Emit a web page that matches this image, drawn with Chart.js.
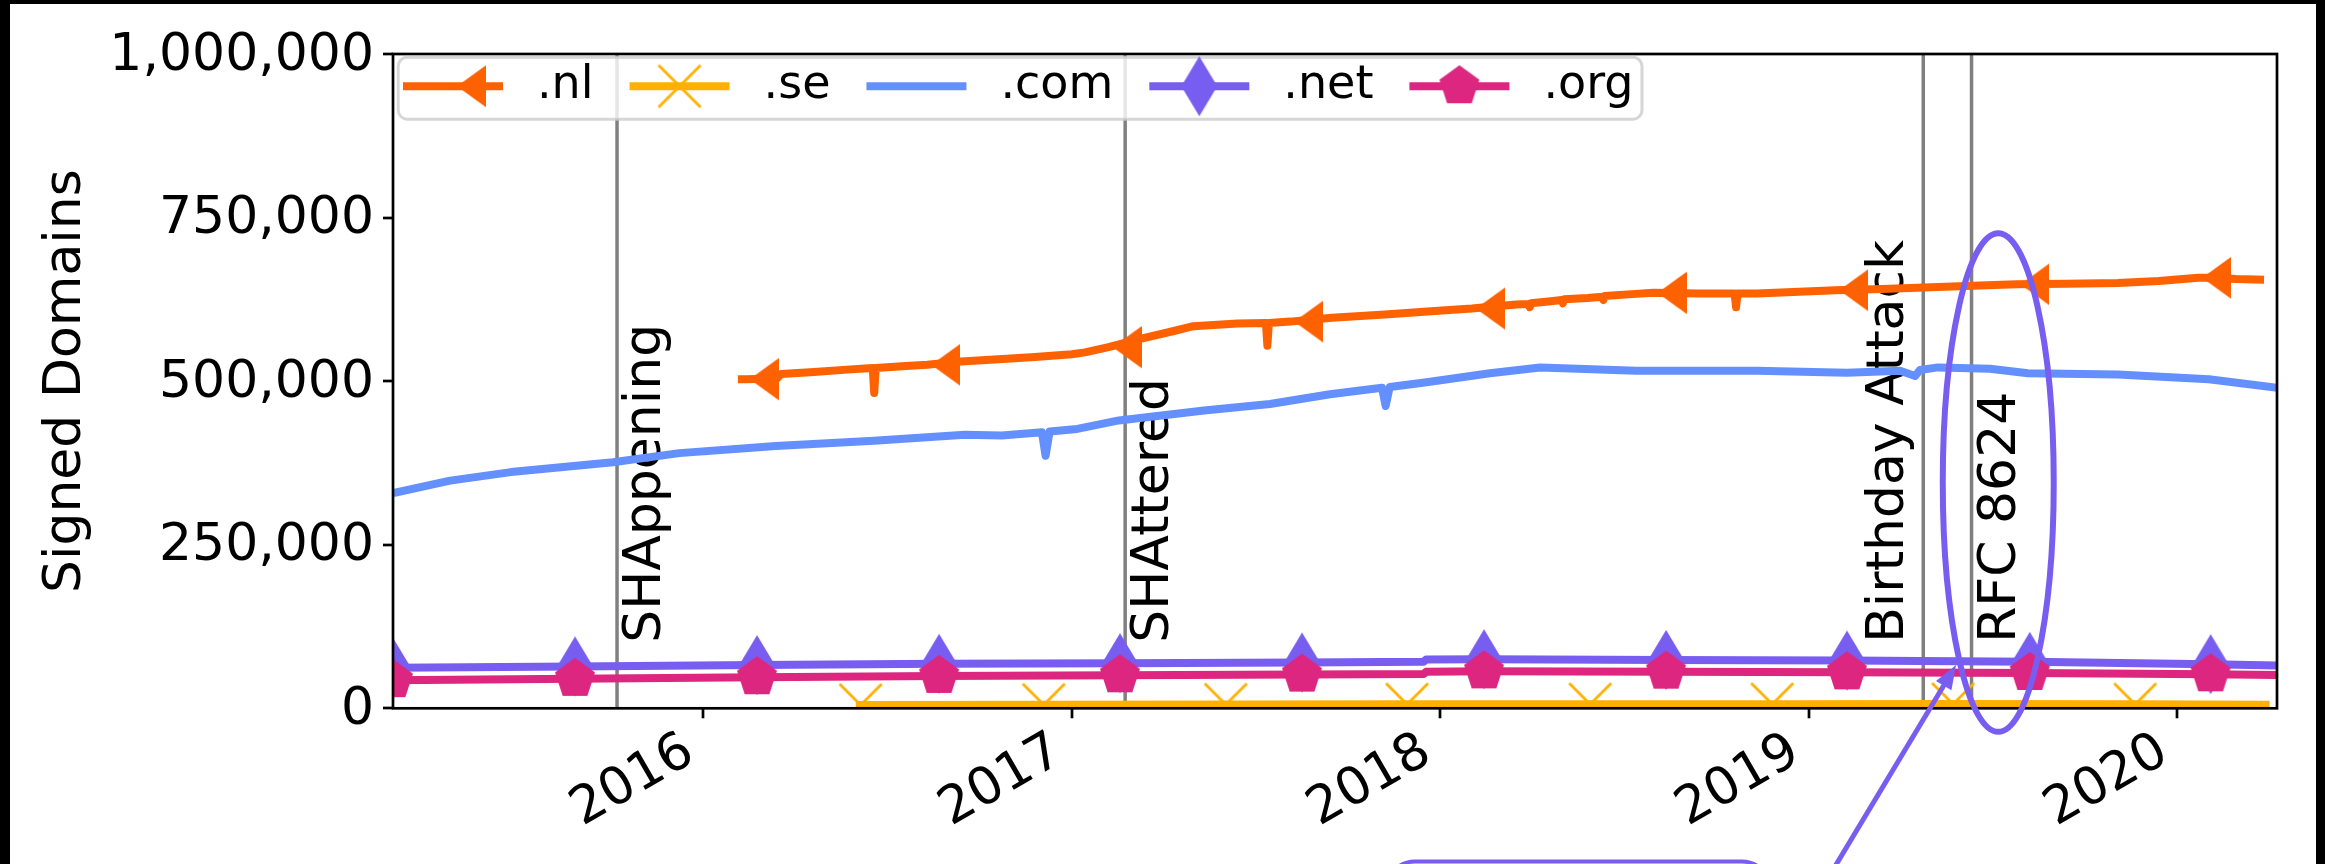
<!DOCTYPE html>
<html>
<head>
<meta charset="utf-8">
<script src="https://cdn.jsdelivr.net/npm/chart.js@4.4.1/dist/chart.umd.min.js"></script>
<style>
  html, body { margin: 0; padding: 0; background: #000; width: 2325px; height: 864px; overflow: hidden; }
  #wrap { position: absolute; left: 10px; top: 4px; width: 2306px; height: 860px; background: #fff; overflow: hidden; }
  canvas { display: block; }
</style>
</head>
<body>
<div id="wrap"><canvas id="chart" width="2306" height="860"></canvas></div>
<script>
// ---------------- data ----------------
const seriesNames = ['.nl', '.se', '.com', '.net', '.org'];
const yearTicks = [2016, 2017, 2018, 2019, 2020];
const valueTicks = [0, 250000, 500000, 750000, 1000000];
const yearRange = [2015.158, 2020.271];
const valueRange = [0, 1000000];

const nlYears = [2016.105, 2016.115, 2016.200, 2016.212, 2016.300, 2016.400, 2016.460, 2016.464, 2016.468, 2016.550, 2016.608, 2016.700, 2016.790, 2016.900, 2017.000, 2017.036, 2017.100, 2017.180, 2017.280, 2017.330, 2017.450, 2017.527, 2017.531, 2017.535, 2017.593, 2017.706, 2017.850, 2017.975, 2018.086, 2018.206, 2018.240, 2018.243, 2018.246, 2018.300, 2018.330, 2018.333, 2018.336, 2018.400, 2018.440, 2018.443, 2018.446, 2018.520, 2018.579, 2018.700, 2018.799, 2018.803, 2018.807, 2018.860, 2019.072, 2019.200, 2019.351, 2019.465, 2019.564, 2019.700, 2019.839, 2019.950, 2020.057, 2020.103, 2020.160, 2020.225];
const nlValues = [503000, 503000, 504000, 511000, 514000, 518000, 520000, 482000, 520000, 523000, 525000, 530000, 533000, 537000, 541000, 544000, 552000, 564000, 577000, 584000, 588000, 589000, 554000, 589000, 591000, 597000, 602000, 607000, 611000, 617000, 618000, 613000, 619000, 622000, 624000, 619000, 625000, 627000, 629000, 624000, 630000, 633000, 635000, 634000, 634000, 613000, 634000, 634000, 639000, 641000, 644000, 646000, 648000, 649000, 650000, 653000, 658000, 658000, 656000, 655000];
const nlMarkYears = [2016.115, 2016.608, 2017.100, 2017.593, 2018.086, 2018.579, 2019.072, 2019.564, 2020.057];

const seYears = [2016.425, 2016.427, 2016.924, 2017.418, 2017.910, 2018.407, 2018.901, 2019.392, 2019.886, 2020.240];
const seValues = [5000, 5000, 5500, 5800, 6000, 6200, 6300, 6400, 6000, 5500];
const seMarkYears = [2016.427, 2016.924, 2017.418, 2017.910, 2018.407, 2018.901, 2019.392, 2019.886];

const comYears = [2015.158, 2015.313, 2015.478, 2015.755, 2015.935, 2016.197, 2016.463, 2016.710, 2016.810, 2016.919, 2016.929, 2016.940, 2017.015, 2017.128, 2017.359, 2017.538, 2017.701, 2017.842, 2017.852, 2017.863, 2017.958, 2018.135, 2018.271, 2018.532, 2018.860, 2019.104, 2019.248, 2019.289, 2019.302, 2019.351, 2019.492, 2019.595, 2019.839, 2020.086, 2020.271];
const comValues = [329000, 348000, 361000, 376000, 390000, 401000, 409000, 418000, 417000, 422000, 386000, 423000, 427000, 440000, 455000, 465000, 480000, 490000, 462000, 491000, 498000, 512000, 521000, 516000, 516000, 513000, 516000, 508000, 517000, 521000, 519000, 512000, 510000, 503000, 490000];

const gridMarkYears = [2015.158, 2015.652, 2016.146, 2016.640, 2017.131, 2017.625, 2018.119, 2018.613, 2019.104, 2019.600, 2020.091];

const netYears = [2015.158, 2015.652, 2016.146, 2016.640, 2017.131, 2017.625, 2017.955, 2017.962, 2018.119, 2018.613, 2019.104, 2019.600, 2020.091, 2020.271];
const netValues = [62000, 64000, 66000, 68000, 69000, 70000, 71000, 74500, 75000, 74000, 73000, 71000, 67500, 65500];

const orgYears = [2015.158, 2015.652, 2016.146, 2016.640, 2017.131, 2017.625, 2017.955, 2017.962, 2018.119, 2018.613, 2019.104, 2019.600, 2020.091, 2020.271];
const orgValues = [43000, 45000, 47500, 49500, 50500, 51500, 52500, 56000, 56500, 56000, 55000, 54000, 52000, 51000];

const eventNames = ['SHAppening', 'SHAttered', 'Birthday Attack', 'RFC 8624'];
const eventYears = [2015.766, 2017.145, 2019.311, 2019.442];
const eventLabelValue = 100000;

const ringCenter = [2019.5145, 345000];
const ringRadii = [0.1506, 381000];
const arrowTip = [2019.400, 66000];
const arrowTail = [2019.052, -260000];
const noteBoxYears = [2017.855, 2018.895];
const noteBoxTop = -234000;

// ---------------- styles ----------------
const COLORS = { nl: '#FE6100', se: '#FFB000', com: '#648FFF', net: '#785EF0', org: '#DC267F' };
const FONT = 'DejaVu Sans';
const LINE_W = 8;

function makeMarker(w, h, draw) {
  const c = document.createElement('canvas');
  c.width = w; c.height = h;
  draw(c.getContext('2d'));
  return c;
}
const caretLeftMarker = makeMarker(66, 44, g => {
  g.fillStyle = COLORS.nl; g.beginPath();
  g.moveTo(37, 22); g.lineTo(66, 1); g.lineTo(66, 43); g.closePath(); g.fill();
});
const xMarker = makeMarker(46, 46, g => {
  g.strokeStyle = COLORS.se; g.lineWidth = 2.8; g.beginPath();
  g.moveTo(2, 2); g.lineTo(44, 44); g.moveTo(44, 2); g.lineTo(2, 44); g.stroke();
});
const diamondMarker = makeMarker(38, 62, g => {
  g.fillStyle = COLORS.net; g.beginPath();
  g.moveTo(19, 1); g.lineTo(37, 31); g.lineTo(19, 61); g.lineTo(1, 31); g.closePath(); g.fill();
});
const pentagonMarker = makeMarker(46, 46, g => {
  g.fillStyle = COLORS.org; g.beginPath();
  for (let k = 0; k < 5; k++) {
    const a = -Math.PI / 2 + k * 2 * Math.PI / 5;
    const px = 23 + 21 * Math.cos(a), py = 23 + 21 * Math.sin(a);
    k ? g.lineTo(px, py) : g.moveTo(px, py);
  }
  g.closePath(); g.fill();
});

function toPoints(xs, ys) { return xs.map((x, i) => ({ x: x, y: ys[i] })); }
function markRadius(marks) {
  return c => (c.raw && marks.includes(c.raw.x)) ? 10 : 0;
}

function lineDataset(label, xs, ys, color, marker, marks, order) {
  return {
    label: label,
    data: toPoints(xs, ys),
    borderColor: color,
    backgroundColor: color,
    borderWidth: LINE_W,
    borderJoinStyle: 'round',
    borderCapStyle: 'square',
    fill: false,
    tension: 0,
    clip: 0,
    order: order,
    pointStyle: marker || false,
    pointRadius: marks ? markRadius(marks) : 0,
    pointBorderWidth: 0,
    pointHoverRadius: 0,
    mplMarker: marker
  };
}

const datasets = [
  lineDataset(seriesNames[0], nlYears, nlValues, COLORS.nl, caretLeftMarker, nlMarkYears, 5),
  lineDataset(seriesNames[1], seYears, seValues, COLORS.se, xMarker, seMarkYears, 4),
  lineDataset(seriesNames[2], comYears, comValues, COLORS.com, null, null, 3),
  lineDataset(seriesNames[3], netYears, netValues, COLORS.net, diamondMarker, gridMarkYears, 2),
  lineDataset(seriesNames[4], orgYears, orgValues, COLORS.org, pentagonMarker, gridMarkYears, 1)
];

// ---------------- plugins ----------------
const eventPlugin = {
  id: 'eventLines',
  beforeDatasetsDraw(chart) {
    const { ctx, chartArea: a, scales: { x, y } } = chart;
    ctx.save();
    eventYears.forEach((yr, i) => {
      const px = x.getPixelForValue(yr);
      ctx.strokeStyle = '#808080';
      ctx.lineWidth = 3.5;
      ctx.beginPath(); ctx.moveTo(px, a.top); ctx.lineTo(px, a.bottom); ctx.stroke();
      ctx.save();
      ctx.translate(px, y.getPixelForValue(eventLabelValue));
      ctx.rotate(-Math.PI / 2);
      ctx.font = '52px "' + FONT + '"';
      ctx.fillStyle = '#000';
      ctx.textAlign = 'left';
      ctx.textBaseline = 'alphabetic';
      const leftSide = eventNames[i] === 'Birthday Attack';
      ctx.fillText(eventNames[i], 0, leftSide ? -20 : 43);
      ctx.restore();
    });
    ctx.restore();
  }
};

const framePlugin = {
  id: 'frame',
  afterDatasetsDraw(chart) {
    const { ctx, chartArea: a } = chart;
    ctx.save();
    ctx.strokeStyle = '#000';
    ctx.lineWidth = 2.7;
    ctx.strokeRect(a.left, a.top, a.right - a.left, a.bottom - a.top);
    ctx.restore();
  }
};

function roundRect(ctx, x, y, w, h, r) {
  ctx.beginPath();
  ctx.moveTo(x + r, y);
  ctx.lineTo(x + w - r, y); ctx.arcTo(x + w, y, x + w, y + r, r);
  ctx.lineTo(x + w, y + h - r); ctx.arcTo(x + w, y + h, x + w - r, y + h, r);
  ctx.lineTo(x + r, y + h); ctx.arcTo(x, y + h, x, y + h - r, r);
  ctx.lineTo(x, y + r); ctx.arcTo(x, y, x + r, y, r);
  ctx.closePath();
}

const annotationPlugin = {
  id: 'annotations',
  afterDraw(chart) {
    const { ctx, chartArea: a, scales: { x, y } } = chart;
    const accent = COLORS.net;
    ctx.save();
    // ellipse
    const cx = x.getPixelForValue(ringCenter[0]);
    const cy = y.getPixelForValue(ringCenter[1]);
    const rx = Math.abs(x.getPixelForValue(ringCenter[0] + ringRadii[0]) - cx);
    const ry = Math.abs(y.getPixelForValue(ringCenter[1] + ringRadii[1]) - cy);
    ctx.strokeStyle = accent; ctx.lineWidth = 6;
    ctx.beginPath(); ctx.ellipse(cx, cy, rx, ry, 0, 0, Math.PI * 2); ctx.stroke();
    // note box (only top part visible)
    const bx0 = x.getPixelForValue(noteBoxYears[0]);
    const bx1 = x.getPixelForValue(noteBoxYears[1]);
    const by = y.getPixelForValue(noteBoxTop);
    ctx.fillStyle = '#fff'; ctx.lineWidth = 4;
    roundRect(ctx, bx0, by, bx1 - bx0, 120, 28);
    ctx.fill(); ctx.stroke();
    // arrow
    const tx = x.getPixelForValue(arrowTip[0]), ty = y.getPixelForValue(arrowTip[1]);
    const sx = x.getPixelForValue(arrowTail[0]), sy = y.getPixelForValue(arrowTail[1]);
    const len = Math.hypot(tx - sx, ty - sy);
    const ux = (tx - sx) / len, uy = (ty - sy) / len;
    const hl = 24, hw = 9;
    ctx.lineWidth = 5;
    ctx.beginPath(); ctx.moveTo(sx, sy); ctx.lineTo(tx - ux * hl * 0.8, ty - uy * hl * 0.8); ctx.stroke();
    ctx.fillStyle = accent;
    ctx.beginPath();
    ctx.moveTo(tx, ty);
    ctx.lineTo(tx - ux * hl - uy * hw, ty - uy * hl + ux * hw);
    ctx.lineTo(tx - ux * hl + uy * hw, ty - uy * hl - ux * hw);
    ctx.closePath(); ctx.fill();

    // legend (matplotlib style, inside the axes, upper left)
    const fs = 46;
    ctx.font = fs + 'px "' + FONT + '"';
    const padL = 4.8, padR = 8.5, handleLen = 100, textPad = 34, colGap = 36;
    const boxX = a.left + 5.2, boxY = a.top + 3.2, boxH = 62;
    let w = padL + padR;
    chart.data.datasets.forEach((d, i) => {
      w += handleLen + textPad + ctx.measureText(d.label).width + (i ? colGap : 0);
    });
    ctx.fillStyle = 'rgba(255,255,255,0.8)';
    ctx.strokeStyle = 'rgba(204,204,204,0.8)';
    ctx.lineWidth = 3;
    roundRect(ctx, boxX, boxY, w, boxH, 9);
    ctx.fill(); ctx.stroke();
    let cxp = boxX + padL;
    const hy = boxY + boxH / 2 - 2;
    chart.data.datasets.forEach((d) => {
      ctx.strokeStyle = d.borderColor; ctx.lineWidth = LINE_W; ctx.lineCap = 'butt';
      ctx.beginPath(); ctx.moveTo(cxp, hy); ctx.lineTo(cxp + handleLen, hy); ctx.stroke();
      const m = d.mplMarker;
      if (m) ctx.drawImage(m, cxp + handleLen / 2 - m.width / 2, hy - m.height / 2);
      ctx.fillStyle = '#000'; ctx.textAlign = 'left'; ctx.textBaseline = 'middle';
      ctx.fillText(d.label, cxp + handleLen + textPad, hy);
      cxp += handleLen + textPad + ctx.measureText(d.label).width + colGap;
    });
    ctx.restore();
  }
};

// ---------------- chart ----------------
Chart.defaults.font.family = FONT;
Chart.defaults.color = '#000';

new Chart(document.getElementById('chart'), {
  type: 'line',
  data: { datasets: datasets },
  options: {
    responsive: false,
    animation: false,
    events: [],
    layout: { padding: { top: 50, right: 39, left: 0, bottom: 0 } },
    plugins: { legend: { display: false }, tooltip: { enabled: false } },
    scales: {
      x: {
        type: 'linear',
        min: yearRange[0], max: yearRange[1],
        afterBuildTicks: s => { s.ticks = yearTicks.map(v => ({ value: v })); },
        afterFit: s => { s.height = 155.7; },
        ticks: {
          autoSkip: false, minRotation: 30, maxRotation: 30,
          padding: 3, labelOffset: -13,
          font: { size: 52 }, color: '#000',
          callback: v => String(v)
        },
        grid: { drawOnChartArea: false, drawTicks: true, tickLength: 10, tickWidth: 2.7, tickColor: '#000', lineWidth: 0 },
        border: { display: false }
      },
      y: {
        type: 'linear',
        min: valueRange[0], max: valueRange[1],
        afterBuildTicks: s => { s.ticks = valueTicks.map(v => ({ value: v })); },
        afterFit: s => { s.width = 383; },
        ticks: {
          padding: 9, labelOffset: 2,
          font: { size: 52 }, color: '#000',
          callback: v => Number(v).toLocaleString('en-US')
        },
        title: {
          display: true, text: 'Signed Domains', color: '#000',
          font: { size: 52 }, padding: { top: 25, bottom: 0 }
        },
        grid: { drawOnChartArea: false, drawTicks: true, tickLength: 10, tickWidth: 2.7, tickColor: '#000', lineWidth: 0 },
        border: { display: false }
      }
    }
  },
  plugins: [eventPlugin, framePlugin, annotationPlugin]
});
</script>
</body>
</html>
